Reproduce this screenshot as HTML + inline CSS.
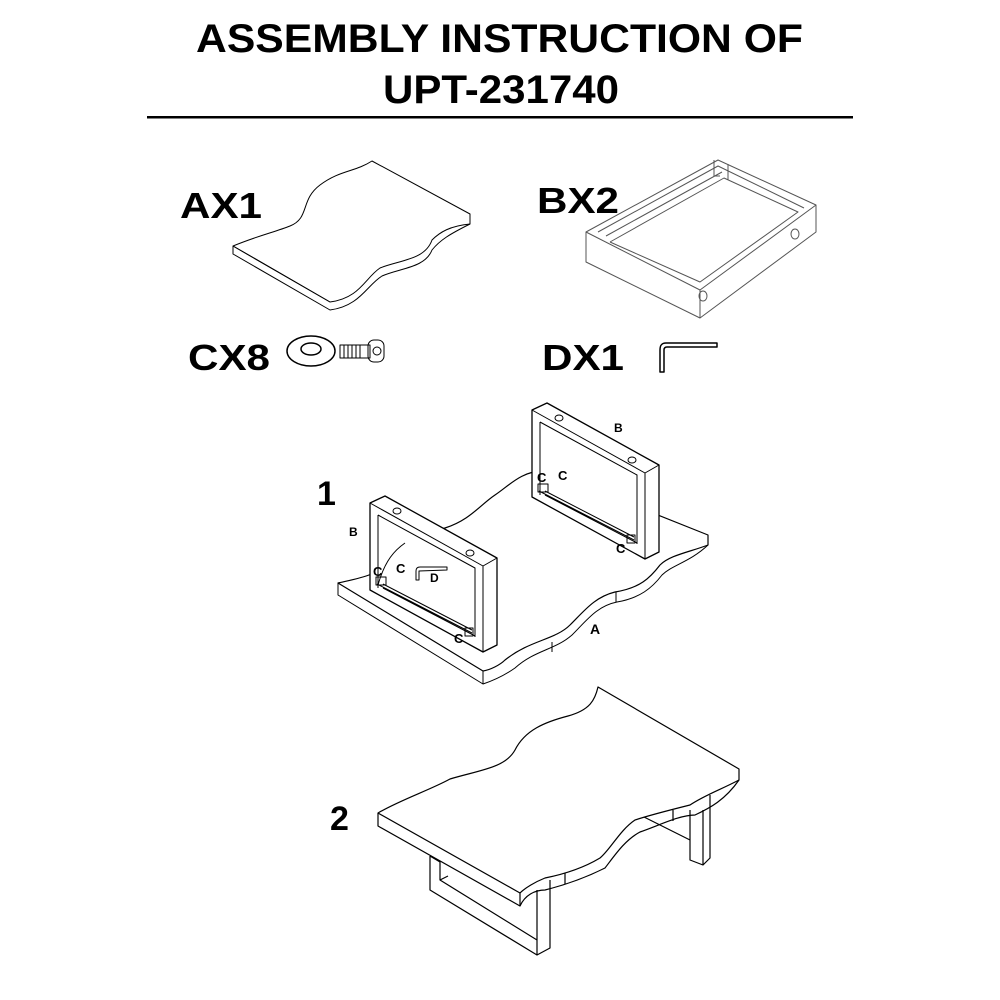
<!DOCTYPE html>
<html><head><meta charset="utf-8"><style>
html,body{margin:0;padding:0;background:#fff;}
svg{display:block;}
text{font-family:"Liberation Sans",sans-serif;font-weight:bold;fill:#000;}
</style></head><body>
<svg width="1000" height="1000" viewBox="0 0 1000 1000" xmlns="http://www.w3.org/2000/svg">
<rect width="1000" height="1000" fill="#fff"/>
<text x="196" y="52" font-size="40" textLength="607" lengthAdjust="spacingAndGlyphs">ASSEMBLY INSTRUCTION OF</text>
<text x="383" y="103" font-size="40" textLength="236" lengthAdjust="spacingAndGlyphs">UPT-231740</text>
<rect x="147" y="116" width="706" height="2.5" fill="#000"/>

<text x="180" y="218" font-size="36" textLength="82" lengthAdjust="spacingAndGlyphs">AX1</text>
<text x="537" y="213" font-size="36" textLength="82" lengthAdjust="spacingAndGlyphs">BX2</text>
<text x="188" y="370" font-size="36" textLength="82" lengthAdjust="spacingAndGlyphs">CX8</text>
<text x="542" y="370" font-size="36" textLength="82" lengthAdjust="spacingAndGlyphs">DX1</text>

<g fill="none" stroke="#000" stroke-width="1" stroke-linejoin="round">
<!-- Part A -->
<path d="M233,246 C260,235 275,232 290,226 C310,218 300,200 320,185 C340,170 355,172 372,161 L470,214 L470,224 C450,226 440,232 432,240 C425,260 400,260 380,268 C365,278 360,298 330,302 Z" fill="#fff"/>
<path d="M233,246 L233,254 L330,310 C360,306 367,285 382,276 C400,268 425,268 432,250 C440,240 450,234 470,224"/>
<path d="M233,246 L330,302" />

<!-- Part B -->
<path d="M586,232 L718,160 L816,205 L816,232 L700,318 L586,262 Z" fill="#fff" stroke="#555"/>
<path d="M586,232 L700,290 L816,205 M700,290 L700,318" stroke="#555"/>
<path d="M598,232 L718,166 L804,208 M606,236 L722,172 M610,242 L724,178 L798,212 L700,282 L610,242" stroke="#555"/>
<path d="M714,160 L714,176 L720,176 M728,164 L728,180" stroke="#555"/>
<ellipse cx="703" cy="296" rx="4" ry="5" stroke="#555"/>
<ellipse cx="795" cy="234" rx="4" ry="5" stroke="#555"/>

<!-- Part C washer & screw -->
<ellipse cx="311" cy="351" rx="24" ry="15" stroke-width="1.5"/>
<ellipse cx="311" cy="349" rx="10" ry="6" stroke-width="1.5"/>
<path d="M340,345 L370,345 L370,358 L340,358 Z"/>
<path d="M344,345 L344,358 M348,345 L348,358 M352,345 L352,358 M356,345 L356,358 M360,345 L360,358"/>
<rect x="368" y="340" width="16" height="22" rx="6"/>
<circle cx="377" cy="351" r="4"/>

<!-- Part D allen key -->
<path d="M717,343 L666,343 C661,343 660,346 660,350 L660,372 L664,372 L664,350 C664,348 665,347 667,347 L717,347 Z" stroke-width="1.5"/>

<!-- STEP 1 board -->
<path d="M338,583 C360,578 380,575 390,560 C400,540 420,535 445,528 C470,520 480,505 495,495 C510,485 520,472 545,470 L708,535 L708,545 C690,552 670,555 660,565 C650,578 640,588 615,592 C595,597 585,610 570,625 C555,640 530,640 505,660 C500,665 490,670 483,671 Z" fill="#fff" stroke-width="1.2"/>
<path d="M338,583 L338,595 L483,684 C495,680 505,675 515,668 C535,650 555,650 572,635 C587,620 597,606 617,602 C640,598 652,588 662,575 C672,565 690,562 708,545"/>
<path d="M483,671 L483,684 M552,642 L552,652 M616,592 L616,602"/>

<!-- frames -->
<g id="fr">
<path d="M370,503 L385,496 L497,558 L497,645 L483,652 L370,590 Z" fill="#fff" stroke-width="1.3"/>
<path d="M370,503 L483,566 L497,558 M483,566 L483,652"/>
<path d="M378,515 L475,568 L475,637 M378,515 L378,588"/>
<path d="M383,588 L475,636 M383,584 L472,630 M377,584 L472,633"/>
<rect x="376" y="577" width="10" height="8"/>
<rect x="465" y="628" width="8" height="8"/>
<ellipse cx="397" cy="511" rx="4" ry="3"/>
<ellipse cx="470" cy="553" rx="4" ry="3"/>
</g>
<use href="#fr" transform="translate(162,-93)"/>
<path d="M378,585 C385,560 395,550 405,543" />
<path d="M447,567 L420,567 C417,567 416,569 416,571 L416,580 L419,580 L419,571 L447,570 Z"/>
</g>
<text x="317" y="505" font-size="34">1</text>
<text x="349" y="536" font-size="12">B</text>
<text x="614" y="432" font-size="12">B</text>
<text x="373" y="576" font-size="13">C</text>
<text x="396" y="573" font-size="13">C</text>
<text x="430" y="582" font-size="12">D</text>
<text x="454" y="643" font-size="13">C</text>
<text x="537" y="482" font-size="13">C</text>
<text x="558" y="480" font-size="13">C</text>
<text x="616" y="553" font-size="13">C</text>
<text x="590" y="634" font-size="14">A</text>

<!-- STEP 2 -->
<text x="330" y="830" font-size="34">2</text>
<g fill="none" stroke="#000" stroke-width="1.2" stroke-linejoin="round">
<path d="M430,856 L430,890 L537,955 L550,948 L550,880 M430,856 L440,862 L440,880 L537,940 L537,955 M440,880 L448,876 M537,940 L537,890" fill="#fff"/>
<path d="M690,810 L690,860 L703,865 L710,858 L710,795 M690,840 L630,810 M703,865 L703,810"/>
<path d="M378,813 C400,800 430,790 450,779 C480,770 505,768 515,750 C525,730 545,722 568,716 C590,710 595,700 598,687 L739,769 L739,780 C720,790 705,795 690,805 C670,810 650,815 635,820 C620,830 610,850 600,858 C580,870 560,875 545,878 C535,882 525,888 520,893 Z" fill="#fff"/>
<path d="M378,813 L378,826 L520,906 C525,895 535,890 545,890 C565,885 585,878 605,868 C615,855 625,840 640,832 C660,825 680,815 695,815 C710,808 725,800 739,780"/>
<path d="M520,893 L520,906 M565,873 L565,884 M673,810 L673,821"/>
</g>
</svg>
</body></html>
